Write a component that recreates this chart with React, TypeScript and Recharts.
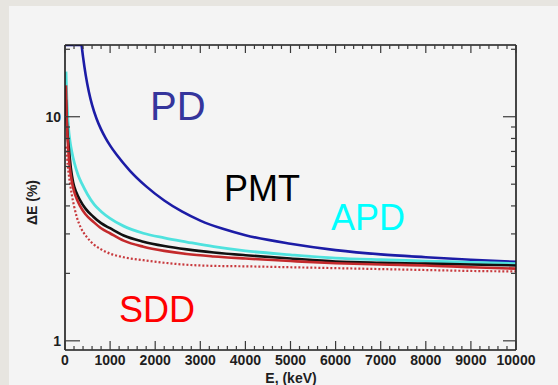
import React from 'react';
import { LineChart, Line, XAxis, YAxis } from 'recharts';

const FONT = '"Liberation Sans", Arial, Helvetica, sans-serif';

// Axis ticks
const xMajorTicks = [0, 1000, 2000, 3000, 4000, 5000, 6000, 7000, 8000, 9000, 10000];
const xAllTicks = [
  0, 200, 400, 600, 800, 1000, 1200, 1400, 1600, 1800, 2000, 2200, 2400, 2600, 2800, 3000,
  3200, 3400, 3600, 3800, 4000, 4200, 4400, 4600, 4800, 5000, 5200, 5400, 5600, 5800, 6000,
  6200, 6400, 6600, 6800, 7000, 7200, 7400, 7600, 7800, 8000, 8200, 8400, 8600, 8800, 9000,
  9200, 9400, 9600, 9800, 10000,
];
const yMajorTicks = [1, 10];
const yAllTicks = [1, 2, 3, 4, 5, 6, 7, 8, 9, 10, 20];
const yDomain = [0.91, 20.9];

// PD (photodiode)
const pdEnergy = [350, 400, 460, 530, 600, 700, 800, 900, 998, 1146, 1441, 1800, 2200, 2600, 3000, 3500, 4000, 5000, 6000, 7000, 8000, 9000, 10000];
const pdRes = [22.5, 18.5, 15.3, 12.9, 11.3, 9.8, 8.78, 8.03, 7.45, 6.76, 5.74, 4.89, 4.23, 3.77, 3.44, 3.16, 2.96, 2.71, 2.54, 2.43, 2.36, 2.3, 2.25];
// PD clipped at the top of the frame
const pdTopEnergy = [0, 358];
const pdTopRes = [20.9, 20.9];

// APD
const apdEnergy = [22, 35, 55, 80, 110, 150, 210, 290, 380, 500, 650, 800, 998, 1300, 1737, 2200, 2700, 3300, 4000, 5000, 6000, 7000, 8000, 9000, 10000];
const apdRes = [15.9, 13.0, 10.5, 8.8, 7.8, 7.0, 6.2, 5.5, 5.0, 4.5, 4.05, 3.78, 3.52, 3.25, 3.02, 2.88, 2.76, 2.63, 2.52, 2.42, 2.34, 2.3, 2.27, 2.24, 2.21];

// PMT
const pmtEnergy = [22, 40, 65, 95, 130, 180, 250, 333, 450, 628, 800, 998, 1300, 1737, 2200, 2700, 3300, 4000, 5000, 6000, 7000, 8000, 9000, 10000];
const pmtRes = [11.9, 9.5, 8.0, 6.9, 5.9, 5.1, 4.6, 4.25, 3.9, 3.58, 3.35, 3.18, 2.95, 2.77, 2.65, 2.56, 2.48, 2.41, 2.33, 2.26, 2.23, 2.21, 2.19, 2.17];

// SDD (solid)
const sddEnergy = [22, 35, 50, 73, 100, 140, 200, 270, 333, 450, 628, 800, 998, 1300, 1737, 2200, 2700, 3300, 4000, 5000, 6000, 7000, 8000, 9000, 10000];
const sddRes = [13.8, 10.5, 8.6, 7.1, 6.1, 5.3, 4.65, 4.25, 4.0, 3.68, 3.4, 3.18, 3.02, 2.8, 2.63, 2.52, 2.44, 2.38, 2.33, 2.27, 2.22, 2.19, 2.17, 2.13, 2.1];

// SDD (dotted)
const sdd2Energy = [22, 37, 60, 85, 111, 150, 200, 259, 350, 481, 650, 800, 998, 1300, 1737, 2200, 2772, 3300, 4000, 5000, 6000, 7000, 8000, 9000, 10000];
const sdd2Res = [7.35, 7.0, 6.1, 5.5, 5.04, 4.5, 4.0, 3.58, 3.2, 2.91, 2.68, 2.56, 2.45, 2.36, 2.29, 2.23, 2.18, 2.16, 2.15, 2.13, 2.11, 2.09, 2.07, 2.05, 2.04];

const toPoints = (e: number[], v: number[]) => e.map((x, i) => ({ e: x, v: v[i] }));

const pdData = toPoints(pdEnergy, pdRes);
const pdTopData = toPoints(pdTopEnergy, pdTopRes);
const apdData = toPoints(apdEnergy, apdRes);
const pmtData = toPoints(pmtEnergy, pmtRes);
const sddData = toPoints(sddEnergy, sddRes);
const sdd2Data = toPoints(sdd2Energy, sdd2Res);

const TICK_COLOR = '#3a3a3a';
const LABEL_COLOR = '#1e1e1e';

const BottomTick = (props: any) => {
  const { x, y, payload } = props;
  const major = xMajorTicks.includes(payload.value);
  return (
    <g>
      <line x1={x} x2={x} y1={y} y2={y - (major ? 9 : 4)} stroke={TICK_COLOR} strokeWidth={1.2} />
      {major && (
        <text x={x} y={y + 15} textAnchor="middle" fontFamily={FONT} fontWeight="bold" fontSize={14} fill={LABEL_COLOR}>
          {payload.value}
        </text>
      )}
    </g>
  );
};

const TopTick = (props: any) => {
  const { x, y, payload } = props;
  const major = xMajorTicks.includes(payload.value);
  return <line x1={x} x2={x} y1={y} y2={y + (major ? 8 : 4)} stroke={TICK_COLOR} strokeWidth={1.2} />;
};

const LeftTick = (props: any) => {
  const { x, y, payload } = props;
  const major = yMajorTicks.includes(payload.value);
  return (
    <g>
      <line x1={x} x2={x + (major ? 15 : 5)} y1={y} y2={y} stroke={TICK_COLOR} strokeWidth={1.2} />
      {major && (
        <text x={x - 4} y={y + 5} textAnchor="end" fontFamily={FONT} fontWeight="bold" fontSize={14} fill={LABEL_COLOR}>
          {payload.value}
        </text>
      )}
    </g>
  );
};

const RightTick = (props: any) => {
  const { x, y, payload } = props;
  const major = yMajorTicks.includes(payload.value);
  return <line x1={x} x2={x - (major ? 13 : 5)} y1={y} y2={y} stroke={TICK_COLOR} strokeWidth={1.2} />;
};

const axisLine = { stroke: '#1a1a1a', strokeWidth: 1.6 };

export default function App() {
  return (
    <div style={{ position: 'absolute', left: 0, top: 0, width: 558, height: 385, background: '#e7e5e0', overflow: 'hidden' }}>
      <div style={{ position: 'absolute', left: 9, top: 6, right: 0, bottom: 0, background: '#f4f4f4' }} />
      <div style={{ position: 'absolute', left: 0, top: 0 }}>
        <LineChart width={558} height={385} margin={{ top: 44, right: 41, bottom: 34, left: 64 }}>
          <XAxis
            xAxisId="b"
            type="number"
            dataKey="e"
            domain={[0, 10000]}
            allowDataOverflow
            ticks={xAllTicks}
            interval={0}
            orientation="bottom"
            height={1}
            tickSize={0}
            tickMargin={0}
            tickLine={false}
            axisLine={axisLine}
            tick={BottomTick}
          />
          <XAxis
            xAxisId="t"
            type="number"
            dataKey="e"
            domain={[0, 10000]}
            allowDataOverflow
            ticks={xAllTicks}
            interval={0}
            orientation="top"
            height={1}
            tickSize={0}
            tickMargin={0}
            tickLine={false}
            axisLine={axisLine}
            tick={TopTick}
          />
          <YAxis
            yAxisId="l"
            type="number"
            scale="log"
            domain={yDomain}
            allowDataOverflow
            ticks={yAllTicks}
            interval={0}
            orientation="left"
            width={1}
            tickSize={0}
            tickMargin={0}
            tickLine={false}
            axisLine={axisLine}
            tick={LeftTick}
          />
          <YAxis
            yAxisId="r"
            type="number"
            scale="log"
            domain={yDomain}
            allowDataOverflow
            ticks={yAllTicks}
            interval={0}
            orientation="right"
            width={1}
            tickSize={0}
            tickMargin={0}
            tickLine={false}
            axisLine={axisLine}
            tick={RightTick}
          />
          <Line xAxisId="b" yAxisId="l" data={pdTopData} dataKey="v" type="linear" stroke="#1c1ca6" strokeWidth={2.6} dot={false} isAnimationActive={false} />
          <Line xAxisId="b" yAxisId="l" data={pdData} dataKey="v" type="monotone" stroke="#1c1ca6" strokeWidth={2.6} dot={false} isAnimationActive={false} />
          <Line xAxisId="b" yAxisId="l" data={apdData} dataKey="v" type="monotone" stroke="#4fe2de" strokeWidth={2.8} dot={false} isAnimationActive={false} />
          <Line xAxisId="b" yAxisId="l" data={pmtData} dataKey="v" type="monotone" stroke="#111111" strokeWidth={2.6} dot={false} isAnimationActive={false} />
          <Line xAxisId="b" yAxisId="l" data={sddData} dataKey="v" type="monotone" stroke="#c42a2c" strokeWidth={2.6} dot={false} isAnimationActive={false} />
          <Line xAxisId="b" yAxisId="l" data={sdd2Data} dataKey="v" type="monotone" stroke="#c83a3e" strokeWidth={2.2} strokeDasharray="2 2" dot={false} isAnimationActive={false} />
        </LineChart>
      </div>
      <svg width={558} height={385} style={{ position: 'absolute', left: 0, top: 0, pointerEvents: 'none' }}>
        <text x={150} y={120} fontFamily={FONT} fontSize={40} fill="#35359c">PD</text>
        <text x={224} y={201} fontFamily={FONT} fontSize={36} fill="#000000">PMT</text>
        <text x={331} y={230} fontFamily={FONT} fontSize={36} fill="#00ffff">APD</text>
        <text x={119} y={322} fontFamily={FONT} fontSize={36} fill="#ff0000">SDD</text>
        <text
          transform="translate(37,202.5) rotate(-90)"
          x={0}
          y={0}
          textAnchor="middle"
          fontFamily={FONT}
          fontWeight="bold"
          fontSize={14}
          fill={LABEL_COLOR}
        >
          ΔE (%)
        </text>
        <text x={291} y={383} textAnchor="middle" fontFamily={FONT} fontWeight="bold" fontSize={14} fill={LABEL_COLOR}>
          E, (keV)
        </text>
      </svg>
    </div>
  );
}
